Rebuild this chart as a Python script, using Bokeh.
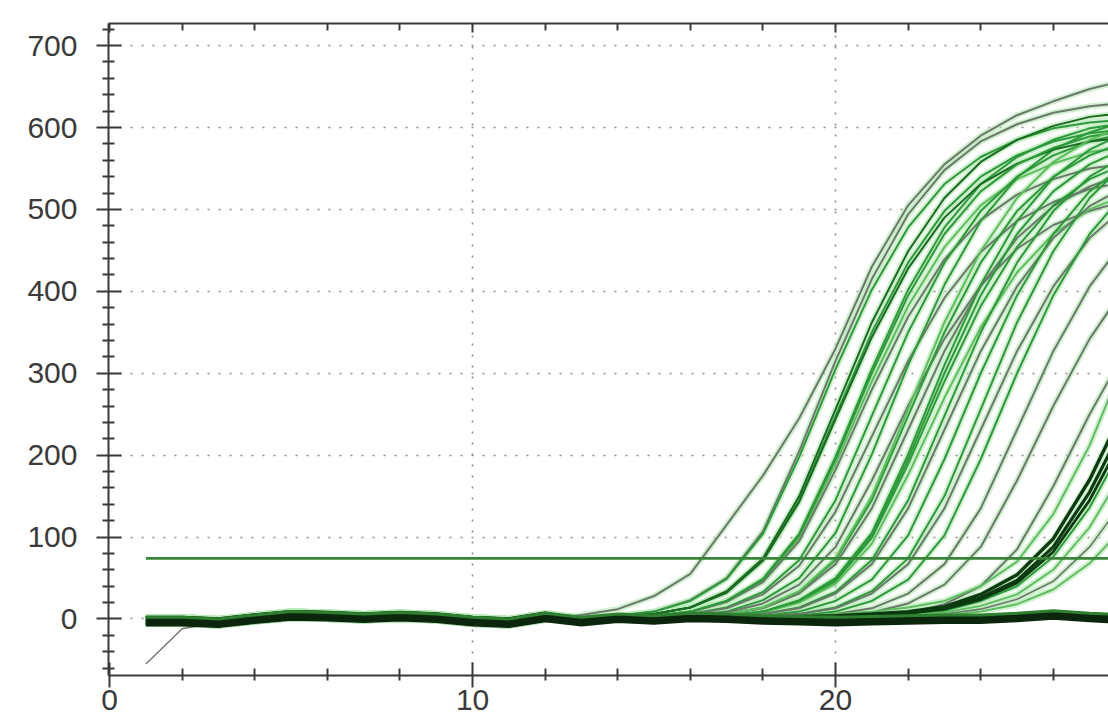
from bokeh.plotting import figure
from bokeh.models import Range1d, FixedTicker, LinearAxis, ColumnDataSource
from bokeh.embed import file_html
from bokeh.resources import INLINE

# ---------------- data ----------------
cycles = list(range(1, 29))          # cycle numbers
x_major = [0, 10, 20]
x_labels = ["0", "10", "20"]
x_minor = [2, 4, 6, 8, 12, 14, 16, 18, 22, 24, 26]
y_major = [0, 100, 200, 300, 400, 500, 600, 700]
y_labels = ["0", "100", "200", "300", "400", "500", "600", "700"]
y_minor = [-60, -40, -20, 20, 40, 60, 80, 120, 140, 160, 180, 220, 240, 260, 280,
           320, 340, 360, 380, 420, 440, 460, 480, 520, 540, 560, 580, 620, 640, 660, 680, 720]

threshold = 74
threshold_cycles = [1, 28]

# baseline wobble, cycles 1..12 (upper edge, middle, lower edge of the band)
base_hi = [2, 2, 0, 5, 9, 8, 6, 8, 6, 2, 0, 7]
base_mid = [-2, -2, -4, 1, 5, 4, 2, 4, 2, -2, -4, 3]
base_lo = [-6, -6, -8, -3, 1, 0, -2, 0, -2, -6, -8, -1]
drift_head = [-55, -12]              # the one trace that starts low

# rising traces, cycles 13..28
rise_01 = [5, 12, 28, 55, 115, 175, 245, 330, 430, 505, 555, 590, 615, 632, 647, 658]
rise_02 = [2, 4, 9, 23, 50, 107, 205, 315, 415, 494, 548, 583, 604, 618, 626, 630]
rise_03 = [2, 4, 9, 22, 49, 104, 198, 305, 402, 478, 531, 564, 585, 599, 606, 610]
rise_04 = [1, 3, 6, 14, 33, 72, 145, 248, 350, 435, 498, 540, 566, 583, 593, 598]
rise_05 = [1, 3, 6, 14, 34, 74, 150, 256, 362, 449, 514, 558, 585, 602, 613, 618]
rise_06 = [1, 2, 4, 9, 22, 49, 104, 198, 305, 402, 478, 531, 564, 585, 599, 606]
rise_07 = [1, 2, 4, 9, 21, 46, 99, 189, 290, 382, 454, 505, 537, 556, 570, 576]
rise_08 = [1, 2, 4, 8, 21, 45, 95, 182, 280, 369, 439, 487, 518, 537, 550, 556]
rise_09 = [1, 1, 3, 6, 14, 33, 72, 145, 248, 350, 435, 498, 540, 566, 583, 593]
rise_10 = [1, 1, 3, 5, 13, 30, 65, 131, 223, 315, 392, 448, 486, 509, 525, 534]
rise_11 = [1, 1, 2, 4, 9, 23, 50, 105, 201, 310, 408, 486, 539, 573, 594, 608]
rise_12 = [1, 1, 2, 3, 8, 19, 42, 88, 169, 260, 342, 407, 452, 481, 498, 511]
rise_13 = [1, 1, 1, 3, 6, 14, 33, 72, 145, 248, 350, 435, 498, 540, 566, 583]
rise_14 = [1, 1, 1, 3, 6, 13, 31, 67, 135, 231, 327, 406, 465, 504, 528, 544]
rise_15 = [1, 1, 1, 2, 4, 9, 23, 50, 105, 201, 310, 408, 486, 539, 573, 594]
rise_16 = [1, 1, 1, 2, 4, 9, 21, 46, 99, 189, 290, 382, 454, 505, 537, 556]
rise_17 = [1, 1, 1, 2, 4, 8, 20, 43, 92, 176, 270, 356, 423, 470, 500, 518]
rise_18 = [1, 1, 1, 1, 3, 6, 14, 33, 72, 145, 248, 350, 435, 498, 540, 566]
rise_19 = [1, 1, 1, 1, 3, 6, 13, 31, 67, 135, 231, 327, 406, 465, 504, 528]
rise_20 = [1, 1, 1, 1, 2, 4, 9, 22, 48, 102, 195, 300, 395, 470, 522, 555]
rise_21 = [1, 1, 1, 1, 1, 3, 6, 14, 34, 74, 150, 256, 362, 449, 514, 558]
rise_22 = [1, 1, 1, 1, 1, 3, 6, 13, 31, 67, 135, 231, 327, 406, 465, 504]
rise_23 = [1, 1, 1, 1, 1, 2, 4, 9, 22, 48, 102, 195, 300, 395, 470, 522]
rise_24 = [1, 1, 1, 1, 1, 1, 3, 6, 13, 31, 67, 135, 231, 327, 406, 465]
rise_25 = [1, 1, 1, 1, 1, 1, 2, 3, 8, 19, 42, 88, 169, 260, 342, 407]
rise_26 = [1, 1, 1, 1, 1, 1, 1, 2, 3, 7, 18, 40, 85, 162, 250, 329]
rise_27 = [1, 3, 6, 14, 32, 71, 143, 244, 344, 428, 490, 531, 556, 573, 583, 588]
rise_28 = [1, 2, 4, 9, 22, 48, 102, 195, 300, 395, 470, 522, 555, 575, 589, 596]
rise_29 = [1, 1, 1, 2, 4, 9, 22, 48, 102, 195, 300, 395, 470, 522, 555, 575]
rise_30 = [1, 1, 1, 3, 6, 14, 34, 74, 150, 256, 362, 449, 514, 558, 585, 602]

# late traces, cycles 13..28
late_01 = [1, 1, 1, 2, 2, 3, 4, 6, 9, 14, 22, 40, 70, 128, 212, 320]
late_02 = [0, 1, 1, 1, 2, 2, 3, 4, 6, 9, 15, 30, 54, 98, 170, 262]
late_03 = [0, 0, 1, 1, 1, 2, 2, 3, 5, 8, 13, 26, 47, 88, 155, 242]
late_04 = [0, 0, 0, 1, 1, 1, 2, 3, 4, 6, 10, 22, 40, 76, 136, 218]
late_05 = [0, 0, 0, 0, 1, 1, 1, 2, 3, 5, 8, 16, 30, 60, 112, 186]
late_06 = [0, 0, 0, 0, 0, 1, 1, 1, 2, 4, 6, 12, 24, 46, 88, 148]
late_07 = [0, 0, 0, 0, 0, 0, 1, 1, 2, 3, 5, 9, 18, 36, 68, 115]
late_08 = [0, 0, 1, 1, 1, 2, 2, 3, 5, 7, 12, 24, 44, 82, 145, 228]

# flat (negative) traces, cycles 13..28
flat_a = [-2, 2, 0, 3, 2, 0, -1, -2, -1, 0, 1, 1, 3, 6, 3, 1]
flat_b = [2, 6, 4, 7, 6, 4, 3, 2, 3, 4, 5, 5, 7, 10, 7, 5]
flat_c = [-6, -2, -4, -1, -2, -4, -5, -6, -5, -4, -3, -3, -1, 2, -1, -3]

# ---------------- styles ----------------
GRAY = "#6b786b"
GREEN = "#2c9a3a"
DARK = "#1a6a21"
LIGHT = "#5cbd5c"
LATE_DARK = "#0c3a10"
BAND = "#0b260d"
GLOW = "#b8eab8"
INK = "#3a3a3a"
FONT = "Liberation Sans"

rise_sets = [rise_01, rise_02, rise_03, rise_04, rise_05, rise_06, rise_07, rise_08,
             rise_09, rise_10, rise_11, rise_12, rise_13, rise_14, rise_15, rise_16,
             rise_17, rise_18, rise_19, rise_20, rise_21, rise_22, rise_23, rise_24,
             rise_25, rise_26, rise_27, rise_28, rise_29, rise_30]
rise_cols = [GRAY, GRAY, GREEN, GREEN, DARK, GREEN, LIGHT, GRAY,
             GREEN, GRAY, GREEN, GRAY, GREEN, GRAY, GREEN, GREEN,
             LIGHT, GREEN, GRAY, GREEN, GREEN, GRAY, GREEN, GRAY,
             GRAY, GRAY, DARK, GREEN, GREEN, LIGHT]
late_sets = [late_01, late_02, late_03, late_04, late_05, late_06, late_07, late_08]
late_cols = [LIGHT, LATE_DARK, LATE_DARK, GREEN, LIGHT, GRAY, LIGHT, LATE_DARK]
late_w = [1.9, 3.4, 3.2, 2.0, 1.9, 1.6, 1.9, 2.8]
bases = [base_lo, base_mid, base_hi]

# ---------------- figure ----------------
p = figure(width=1108, height=725,
           x_range=Range1d(-0.03, 27.52), y_range=Range1d(-69, 727),
           output_backend="svg", toolbar_location=None,
           min_border_left=108, min_border_right=0, min_border_top=23, min_border_bottom=50)
p.outline_line_color = None
p.background_fill_color = "white"
p.border_fill_color = "white"

xs, ys, cs, ws = [], [], [], []
for i, vals in enumerate(rise_sets):
    xs.append(cycles)
    ys.append(bases[i % 3] + vals)
    cs.append(rise_cols[i])
    ws.append(2.0)
for i, vals in enumerate(late_sets):
    xs.append(cycles)
    ys.append(bases[(i + 1) % 3] + vals)
    cs.append(late_cols[i])
    ws.append(late_w[i])

src = ColumnDataSource(dict(xs=xs, ys=ys, c=cs, w=ws))
p.multi_line("xs", "ys", source=src, line_color=GLOW, line_width=6, line_alpha=0.65,
             line_join="round")
p.multi_line("xs", "ys", source=src, line_color="c", line_width="w", line_join="round")

# drifting trace that starts low
p.line(cycles, drift_head + base_mid[2:] + flat_a, line_color=GRAY, line_width=1.4)

# threshold line
p.line(threshold_cycles, [threshold, threshold], line_color="#3a843a", line_width=2.8)

# flat band
p.line(cycles, base_lo + flat_c, line_color=BAND, line_width=5, line_join="round")
p.line(cycles, base_mid + flat_a, line_color=BAND, line_width=5, line_join="round")
p.line(cycles, base_hi + flat_b, line_color="#2f7f30", line_width=3, line_join="round")

# ---------------- axes ----------------
xt = FixedTicker(ticks=x_major, minor_ticks=x_minor)
yt = FixedTicker(ticks=y_major, minor_ticks=y_minor)

ax = p.xaxis[0]
ax.ticker = xt
ax.major_label_overrides = dict(zip(x_major, x_labels))
ax.axis_line_width = 2
ax.axis_line_color = INK
ax.major_tick_in = 13
ax.major_tick_out = 12
ax.minor_tick_in = 7
ax.minor_tick_out = 5
ax.major_tick_line_width = 2
ax.minor_tick_line_width = 2
ax.major_tick_line_color = INK
ax.minor_tick_line_color = INK
ax.major_label_standoff = 2
ax.major_label_text_font = FONT
ax.major_label_text_font_size = "30px"
ax.major_label_text_color = INK

ay = p.yaxis[0]
ay.ticker = yt
ay.major_label_overrides = dict(zip(y_major, y_labels))
ay.axis_line_width = 2
ay.axis_line_color = INK
ay.major_tick_in = 13
ay.major_tick_out = 12
ay.minor_tick_in = 6
ay.minor_tick_out = 6
ay.major_tick_line_width = 2
ay.minor_tick_line_width = 2
ay.major_tick_line_color = INK
ay.minor_tick_line_color = INK
ay.major_label_standoff = 19
ay.major_label_text_font = FONT
ay.major_label_text_font_size = "30px"
ay.major_label_text_color = INK

top = LinearAxis(ticker=FixedTicker(ticks=x_major, minor_ticks=x_minor),
                 major_label_text_font_size="0px", major_label_standoff=0,
                 axis_line_width=2, axis_line_color=INK,
                 major_tick_in=9, major_tick_out=0, minor_tick_in=7, minor_tick_out=0,
                 major_tick_line_width=2, minor_tick_line_width=2,
                 major_tick_line_color=INK, minor_tick_line_color=INK)
top.major_label_overrides = {v: "" for v in x_major}
p.add_layout(top, "above")

# ---------------- grid ----------------
p.xgrid.ticker = FixedTicker(ticks=[10, 20])
p.ygrid.ticker = FixedTicker(ticks=y_major)
for g in (p.xgrid[0], p.ygrid[0]):
    g.grid_line_color = "#8c8c8c"
    g.grid_line_dash = "2 9"
    g.grid_line_width = 1.6

open("out.html", "w").write(file_html(p, INLINE))
